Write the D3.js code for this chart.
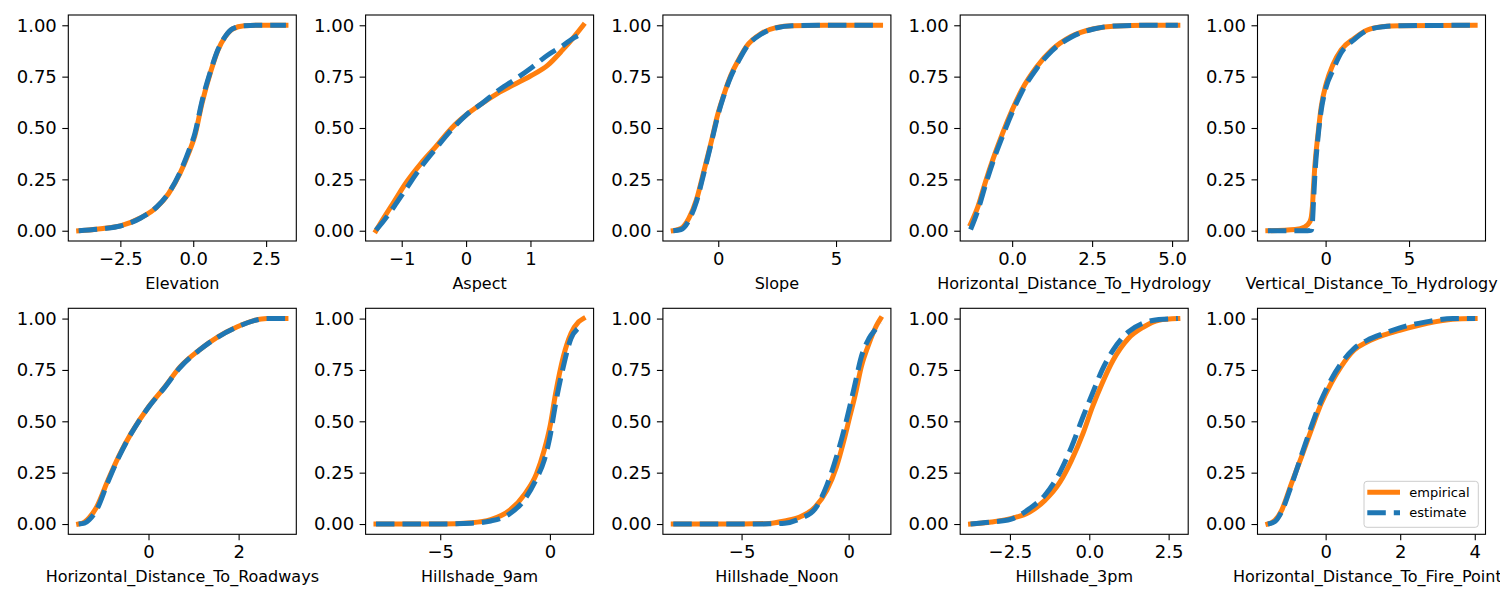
<!DOCTYPE html>
<html>
<head>
<meta charset="utf-8">
<script src="https://cdn.jsdelivr.net/npm/d3@7"></script>
<style>
  html, body { margin: 0; padding: 0; background: #fff; }
  svg { display: block; font-family: "DejaVu Sans", sans-serif; }
</style>
</head>
<body>
<svg id="chart" width="1500" height="600"></svg>
<script>
// ---------------- DATA ----------------
const featureNames = [
  "Elevation", "Aspect", "Slope", "Horizontal_Distance_To_Hydrology", "Vertical_Distance_To_Hydrology",
  "Horizontal_Distance_To_Roadways", "Hillshade_9am", "Hillshade_Noon", "Hillshade_3pm", "Horizontal_Distance_To_Fire_Points"
];
const seriesNames = ["empirical", "estimate"];
const yTickValues = [0, 0.25, 0.5, 0.75, 1.0];
const yTickLabels = ["0.00", "0.25", "0.50", "0.75", "1.00"];

const xTickValues = [
  [-2.5, 0, 2.5], [-1, 0, 1], [0, 5], [0, 2.5, 5], [0, 5],
  [0, 2], [-5, 0], [-5, 0], [-2.5, 0, 2.5], [0, 2, 4]
];
const xTickLabels = [
  ["−2.5", "0.0", "2.5"], ["−1", "0", "1"], ["0", "5"], ["0.0", "2.5", "5.0"], ["0", "5"],
  ["0", "2"], ["−5", "0"], ["−5", "0"], ["−2.5", "0.0", "2.5"], ["0", "2", "4"]
];

// x grids (standardised feature values) per panel
const elevationX = [-3.93, -3.1, -2.5, -1.8, -1.25, -0.85, -0.45, -0.15, 0.05, 0.3, 0.6, 0.85, 1.1, 1.35, 1.75, 2.3, 3.18];
const elevationEmp = [0, 0.011, 0.024, 0.063, 0.115, 0.18, 0.28, 0.38, 0.46, 0.62, 0.775, 0.88, 0.945, 0.982, 0.998, 1.0, 1.0];
const elevationEst = [0, 0.010, 0.023, 0.062, 0.116, 0.182, 0.285, 0.39, 0.47, 0.63, 0.78, 0.882, 0.946, 0.983, 0.998, 1.0, 1.0];

const aspectX = [-1.40, -1.30, -1.12, -0.94, -0.70, -0.47, -0.23, 0, 0.25, 0.49, 0.73, 1.0, 1.27, 1.50, 1.68, 1.82];
const aspectEmp = [0, 0.052, 0.141, 0.23, 0.328, 0.409, 0.498, 0.563, 0.62, 0.669, 0.709, 0.753, 0.806, 0.88, 0.945, 1.0];
const aspectEst = [0.003, 0.04, 0.117, 0.2, 0.31, 0.40, 0.49, 0.563, 0.62, 0.68, 0.73, 0.79, 0.855, 0.90, 0.94, 0.962];

const slopeX = [-1.91, -1.58, -1.25, -0.93, -0.60, -0.28, -0.03, 0.21, 0.54, 0.86, 1.19, 1.84, 2.49, 3.14, 4.5, 6.89];
const slopeEmp = [0, 0.011, 0.06, 0.149, 0.295, 0.441, 0.563, 0.652, 0.758, 0.831, 0.896, 0.961, 0.99, 0.998, 1.0, 1.0];
const slopeEst = [0, 0.006, 0.05, 0.14, 0.285, 0.435, 0.555, 0.648, 0.752, 0.826, 0.892, 0.958, 0.988, 0.998, 1.0, 1.0];

const hydroHX = [-1.30, -1.07, -0.83, -0.59, -0.30, 0, 0.30, 0.77, 1.24, 1.84, 2.55, 3.26, 4.2, 5.18];
const hydroHEmp = [0.032, 0.117, 0.24, 0.352, 0.474, 0.587, 0.685, 0.798, 0.88, 0.945, 0.983, 0.997, 1.0, 1.0];
const hydroHEst = [0.006, 0.10, 0.225, 0.34, 0.46, 0.575, 0.675, 0.79, 0.875, 0.942, 0.982, 0.997, 1.0, 1.0];

const hydroVX = [-3.46, -1.83, -1.24, -0.94, -0.85, -0.79, -0.72, -0.65, -0.45, -0.26, 0.04, 0.43, 0.93, 1.71, 2.50, 3.48, 4.47, 8.96];
const hydroVEmp = [0, 0.006, 0.019, 0.044, 0.07, 0.117, 0.22, 0.31, 0.474, 0.604, 0.717, 0.807, 0.88, 0.936, 0.977, 0.994, 0.998, 1.0];
const hydroVEst = [0, 0, 0, 0.001, 0.003, 0.04, 0.15, 0.26, 0.458, 0.588, 0.701, 0.78, 0.866, 0.93, 0.975, 0.993, 0.998, 1.0];

const roadX = [-1.55, -1.42, -1.32, -1.15, -0.90, -0.65, -0.39, 0, 0.36, 0.70, 1.12, 1.54, 1.96, 2.34, 2.63, 3.05];
const roadEmp = [0, 0.01, 0.03, 0.083, 0.213, 0.334, 0.44, 0.57, 0.667, 0.765, 0.846, 0.911, 0.959, 0.99, 1.0, 1.0];
const roadEst = [0, 0.004, 0.02, 0.07, 0.205, 0.33, 0.438, 0.568, 0.665, 0.762, 0.845, 0.91, 0.958, 0.99, 1.0, 1.0];

const shade9X = [-7.93, -5, -3.57, -2.70, -1.83, -1.13, -0.61, -0.26, 0, 0.26, 0.61, 0.96, 1.31, 1.52];
const shade9Emp = [0, 0, 0.006, 0.021, 0.067, 0.148, 0.245, 0.359, 0.472, 0.635, 0.813, 0.927, 0.984, 1.0];
const shade9Est = [0, 0, 0.004, 0.015, 0.05, 0.123, 0.221, 0.31, 0.424, 0.586, 0.765, 0.903, 0.955, 0.97];

const shadeNoonX = [-8.19, -5, -3.71, -2.99, -2.28, -1.56, -1.02, -0.57, -0.22, 0.05, 0.32, 0.59, 0.95, 1.31, 1.49];
const shadeNoonEmp = [0, 0, 0.003, 0.015, 0.034, 0.083, 0.164, 0.278, 0.407, 0.521, 0.635, 0.765, 0.878, 0.968, 1.0];
const shadeNoonEst = [0, 0, 0.001, 0.004, 0.026, 0.075, 0.188, 0.326, 0.456, 0.57, 0.692, 0.813, 0.903, 0.955, 0.98];

const shade3X = [-3.74, -3.08, -2.48, -1.88, -1.40, -0.92, -0.56, -0.20, 0.10, 0.40, 0.75, 1.23, 1.71, 2.19, 2.79];
const shade3Emp = [0, 0.01, 0.026, 0.058, 0.115, 0.205, 0.31, 0.44, 0.57, 0.683, 0.797, 0.903, 0.959, 0.992, 1.0];
const shade3Est = [0, 0.01, 0.023, 0.075, 0.14, 0.253, 0.375, 0.521, 0.635, 0.748, 0.846, 0.935, 0.979, 0.995, 1.0];

const fireX = [-1.55, -1.36, -1.18, -0.92, -0.65, -0.39, -0.12, 0.14, 0.41, 0.76, 1.11, 1.55, 1.99, 2.70, 3.41, 4.01];
const fireEmp = [0, 0.018, 0.067, 0.196, 0.326, 0.456, 0.586, 0.683, 0.765, 0.846, 0.886, 0.919, 0.943, 0.976, 0.997, 1.0];
const fireEst = [0, 0.012, 0.06, 0.188, 0.334, 0.472, 0.602, 0.70, 0.78, 0.854, 0.894, 0.927, 0.955, 0.984, 1.0, 1.0];

const panelX = [elevationX, aspectX, slopeX, hydroHX, hydroVX, roadX, shade9X, shadeNoonX, shade3X, fireX];
const panelEmp = [elevationEmp, aspectEmp, slopeEmp, hydroHEmp, hydroVEmp, roadEmp, shade9Emp, shadeNoonEmp, shade3Emp, fireEmp];
const panelEst = [elevationEst, aspectEst, slopeEst, hydroHEst, hydroVEst, roadEst, shade9Est, shadeNoonEst, shade3Est, fireEst];

// ---------------- LAYOUT ----------------
const colors = { empirical: "#ff7f0e", estimate: "#1f77b4" };
const panelLeft0 = 68.3, panelPitchX = 297.3, panelW = 228;
const rowTops = [15, 308.3], panelH = 226;
const svg = d3.select("#chart");

featureNames.forEach((name, i) => {
  const col = i % 5, row = Math.floor(i / 5);
  const left = panelLeft0 + col * panelPitchX, top = rowTops[row];
  const xs = panelX[i];
  const lo = d3.min(xs), hi = d3.max(xs), pad = (hi - lo) * 0.05;
  const x = d3.scaleLinear().domain([lo - pad, hi + pad]).range([0, panelW]);
  const y = d3.scaleLinear().domain([-0.05, 1.05]).range([panelH, 0]);
  const g = svg.append("g").attr("transform", `translate(${left},${top})`);

  const line = d3.line().x(d => x(d[0])).y(d => y(d[1])).curve(d3.curveMonotoneX);
  const empPts = xs.map((v, k) => [v, panelEmp[i][k]]);
  const estPts = xs.map((v, k) => [v, panelEst[i][k]]);

  g.append("path").attr("d", line(empPts)).attr("fill", "none")
    .attr("stroke", colors.empirical).attr("stroke-width", 5)
    .attr("stroke-linecap", "square").attr("stroke-linejoin", "round");
  g.append("path").attr("d", line(estPts)).attr("fill", "none")
    .attr("stroke", colors.estimate).attr("stroke-width", 5)
    .attr("stroke-dasharray", "18.5,8").attr("stroke-linecap", "butt").attr("stroke-linejoin", "round");

  // axes
  const xAxis = d3.axisBottom(x).tickValues(xTickValues[i])
    .tickFormat((d, k) => xTickLabels[i][k]).tickSize(6).tickPadding(5);
  const gx = g.append("g").attr("transform", `translate(0,${panelH})`).call(xAxis);
  const yAxis = d3.axisLeft(y).tickValues(yTickValues)
    .tickFormat((d, k) => yTickLabels[k]).tickSize(6).tickPadding(5.5);
  const gy = g.append("g").call(yAxis);
  [gx, gy].forEach(a => {
    a.select(".domain").remove();
    a.selectAll("text").attr("font-size", 18).attr("font-family", "DejaVu Sans").attr("fill", "#000");
    a.selectAll("line").attr("stroke", "#000").attr("stroke-width", 1.1);
  });
  gx.selectAll("text").attr("dy", "0.72em");

  g.append("rect").attr("x", 0).attr("y", 0).attr("width", panelW).attr("height", panelH)
    .attr("fill", "none").attr("stroke", "#000").attr("stroke-width", 1.1);

  g.append("text").attr("x", panelW / 2).attr("y", panelH + 48)
    .attr("text-anchor", "middle").attr("font-size", 16).attr("fill", "#000").text(name);

  if (i === featureNames.length - 1) {
    const lg = g.append("g").attr("transform", `translate(${1364 - left},${481.3 - top})`);
    lg.append("rect").attr("width", 114.3).attr("height", 46).attr("rx", 3)
      .attr("fill", "#fff").attr("fill-opacity", 0.8).attr("stroke", "#cccccc").attr("stroke-width", 1);
    seriesNames.forEach((s, k) => {
      const yy = 11 + k * 20.5;
      lg.append("line").attr("x1", 3.3).attr("x2", 36).attr("y1", yy).attr("y2", yy)
        .attr("stroke", colors[s]).attr("stroke-width", 5)
        .attr("stroke-dasharray", s === "estimate" ? "18.5,8" : null);
      lg.append("text").attr("x", 45.3).attr("y", yy).attr("dy", "0.35em")
        .attr("font-size", 13).attr("fill", "#000").text(s);
    });
  }
});
</script>
</body>
</html>
